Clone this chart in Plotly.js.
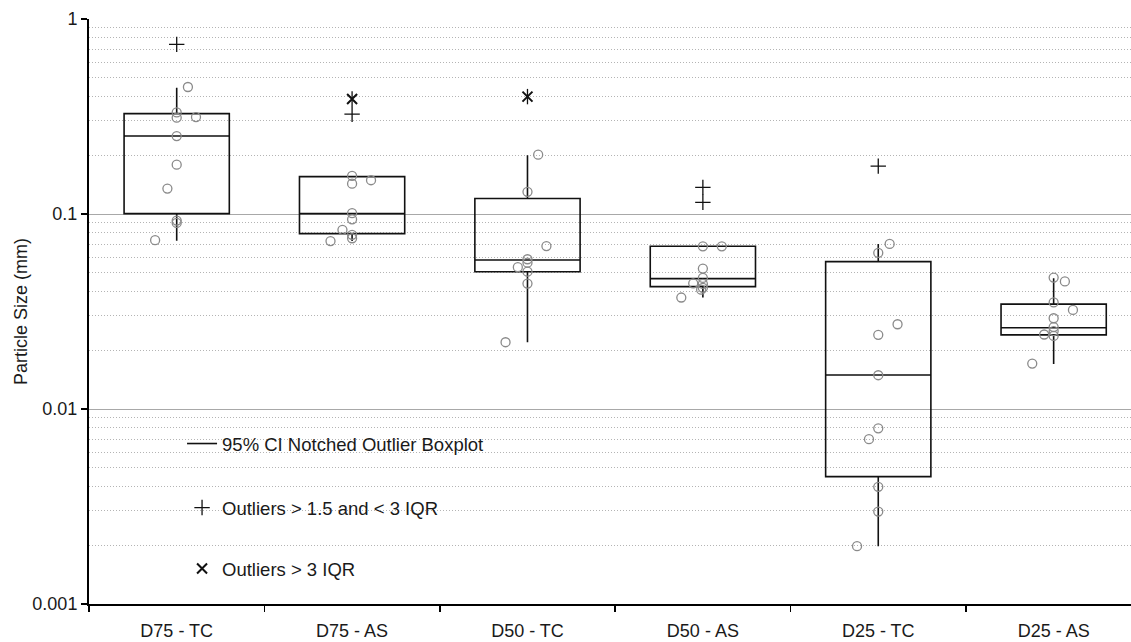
<!DOCTYPE html>
<html>
<head>
<meta charset="utf-8">
<script src="https://cdn.plot.ly/plotly-3.0.1.min.js"></script>
<style>
  html, body { margin: 0; padding: 0; background: #ffffff; overflow: hidden; }
  #chart { width: 1131px; height: 642px; }
</style>
</head>
<body>
<div id="chart"></div>
<script>
// ---- Data ----
var categories = ['D75 - TC', 'D75 - AS', 'D50 - TC', 'D50 - AS', 'D25 - TC', 'D25 - AS'];

// box statistics (mm)
var lowerFence = [0.073, 0.0726, 0.022, 0.0373, 0.00198, 0.0170];
var q1Vals     = [0.1005, 0.0793, 0.0506, 0.0424, 0.0045, 0.0240];
var medianVals = [0.251, 0.1004, 0.0581, 0.0466, 0.01494, 0.0261];
var q3Vals     = [0.327, 0.1554, 0.120, 0.0683, 0.0570, 0.0345];
var upperFence = [0.444, 0.157, 0.200, 0.0683, 0.0702, 0.0468];

// individual samples per group, with their side-by-side dodge (category units)
var ptsD75TC = [0.448, 0.332, 0.312, 0.314, 0.251, 0.179, 0.135, 0.0925, 0.090, 0.0734];
var jitD75TC = [0.064, 0, 0, 0.11, 0, 0, -0.053, 0, 0, -0.123];
var ptsD75AS = [0.157, 0.143, 0.149, 0.101, 0.0939, 0.0830, 0.0782, 0.0751, 0.0726];
var jitD75AS = [0, 0, 0.108, 0, 0, -0.055, 0, 0, -0.123];
var ptsD50TC = [0.2015, 0.130, 0.0685, 0.0586, 0.0563, 0.0534, 0.0506, 0.0440, 0.0220];
var jitD50TC = [0.061, 0, 0.108, 0, 0, -0.055, 0, 0, -0.125];
var ptsD50AS = [0.0683, 0.0683, 0.0525, 0.0470, 0.0441, 0.0438, 0.0418, 0.0409, 0.0373];
var jitD50AS = [0, 0.108, 0, 0, -0.055, 0, 0, -0.01, -0.123];
var ptsD25TC = [0.0702, 0.0632, 0.0272, 0.0240, 0.0149, 0.00796, 0.00700, 0.00399, 0.00298, 0.00198];
var jitD25TC = [0.065, 0, 0.11, 0, 0, 0, -0.053, 0, 0, -0.121];
var ptsD25AS = [0.0472, 0.0451, 0.0352, 0.0322, 0.0292, 0.0263, 0.0251, 0.0241, 0.0237, 0.0171];
var jitD25AS = [0, 0.064, 0, 0.11, 0, 0, 0, -0.054, 0, -0.122];

// outliers
var mildOutCat  = ['D75 - TC', 'D75 - AS', 'D50 - AS', 'D50 - AS', 'D25 - TC'];
var mildOutVals = [0.741, 0.325, 0.137, 0.1148, 0.176];
var extOutCat   = ['D75 - AS', 'D50 - TC'];
var extOutVals  = [0.389, 0.400];

var yTickVals = [0.001, 0.01, 0.1, 1];
var yTickText = ['0.001', '0.01', '0.1', '1'];

var legendLabels = ['95% CI Notched Outlier Boxplot', 'Outliers > 1.5 and < 3 IQR', 'Outliers > 3 IQR'];

// ---- Build traces ----
var FONT = 'Liberation Sans, Arial, Helvetica, sans-serif';
var catIdx = categories.map(function (c, i) { return i; });

var groupPts = [ptsD75TC, ptsD75AS, ptsD50TC, ptsD50AS, ptsD25TC, ptsD25AS];
var groupJit = [jitD75TC, jitD75AS, jitD50TC, jitD50AS, jitD25TC, jitD25AS];
var px = [], py = [];
groupPts.forEach(function (arr, g) {
  arr.forEach(function (v, k) { px.push(g + groupJit[g][k]); py.push(v); });
});

var boxTrace = {
  type: 'box', x: catIdx, q1: q1Vals, median: medianVals, q3: q3Vals,
  lowerfence: lowerFence, upperfence: upperFence,
  boxpoints: false, width: 0.6, whiskerwidth: 0,
  line: { color: '#111111', width: 1.6 },
  fillcolor: 'rgba(0,0,0,0)', showlegend: false, hoverinfo: 'skip'
};

var pointTrace = {
  type: 'scatter', mode: 'markers', x: px, y: py, showlegend: false,
  marker: { symbol: 'circle-open', size: 9, color: '#8a8a8a', line: { width: 1.3, color: '#8a8a8a' } },
  hoverinfo: 'skip'
};

var legendLine = {
  type: 'scatter', mode: 'lines', x: [null], y: [null], name: legendLabels[0],
  line: { color: '#111111', width: 1.6 }, legend: 'legend', showlegend: true
};

var mildTrace = {
  type: 'scatter', mode: 'markers',
  x: mildOutCat.map(function (c) { return categories.indexOf(c); }), y: mildOutVals,
  name: legendLabels[1], legend: 'legend2',
  marker: { symbol: 'cross-thin-open', size: 11, color: '#111111', line: { width: 1.3, color: '#111111' } }
};

var extX = extOutCat.map(function (c) { return categories.indexOf(c); });
var extTrace = {
  type: 'scatter', mode: 'markers', x: extX, y: extOutVals,
  name: legendLabels[2], legend: 'legend3',
  marker: { symbol: 'x-thin-open', size: 10, color: '#111111', line: { width: 2, color: '#111111' } }
};
var extTraceBar = {
  type: 'scatter', mode: 'markers', x: extX, y: extOutVals, showlegend: false,
  marker: { symbol: 'line-ns-open', size: 11, color: '#111111', line: { width: 1.3, color: '#111111' } }
};

var legendBase = {
  xanchor: 'left', yanchor: 'middle', bgcolor: 'rgba(0,0,0,0)', borderwidth: 0,
  font: { family: FONT, size: 18.5, color: '#1a1a1a' }, itemwidth: 30
};
function mkLegend(x, y) { var o = Object.assign({}, legendBase); o.x = x; o.y = y; return o; }

var layout = {
  width: 1131, height: 642,
  margin: { l: 89, r: 0, t: 19, b: 38, pad: 0 },
  paper_bgcolor: '#ffffff', plot_bgcolor: '#ffffff',
  font: { family: FONT, size: 18, color: '#1a1a1a' },
  xaxis: {
    type: 'linear', range: [-0.5, 5.441], fixedrange: true,
    tickmode: 'array', tickvals: catIdx, ticktext: categories,
    ticks: '', showgrid: false, zeroline: false,
    showline: true, linecolor: '#000000', linewidth: 2,
    tickfont: { family: FONT, size: 18, color: '#1a1a1a' },
    ticklabelstandoff: 9,
    minor: { tickmode: 'linear', tick0: -0.5, dtick: 1, ticks: 'outside', ticklen: 6, tickwidth: 1.5, tickcolor: '#000000', showgrid: false }
  },
  yaxis: {
    type: 'log', range: [-3, 0], fixedrange: true,
    tickmode: 'array', tickvals: yTickVals, ticktext: yTickText,
    ticks: 'outside', ticklen: 6, tickwidth: 1.5, tickcolor: '#000000',
    showline: true, linecolor: '#000000', linewidth: 2,
    showgrid: true, gridcolor: '#a8a8a8', gridwidth: 1,
    zeroline: false,
    tickfont: { family: FONT, size: 18, color: '#1a1a1a' },
    title: { text: 'Particle Size (mm)', font: { family: FONT, size: 18, color: '#1a1a1a' }, standoff: 0 },
    minor: { dtick: 'D1', showgrid: true, gridcolor: '#b4b4b4', gridwidth: 1, griddash: '1px,2px', ticks: '' }
  },
  legend: mkLegend(0.0893, 0.2735),
  legend2: mkLegend(0.0893, 0.1641),
  legend3: mkLegend(0.0893, 0.0598),
  showlegend: true
};

Plotly.newPlot('chart', [boxTrace, pointTrace, extTraceBar, legendLine, mildTrace, extTrace], layout,
  { displayModeBar: false, staticPlot: true });
</script>
</body>
</html>
